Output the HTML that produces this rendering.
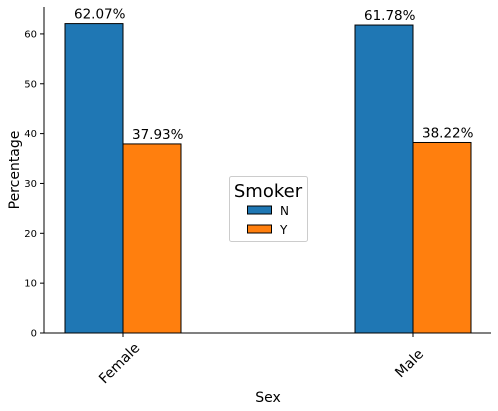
<!DOCTYPE html>
<html><head><meta charset="utf-8"><style>
body{margin:0;background:#fff;}
svg{font-family:"DejaVu Sans","Liberation Sans",sans-serif;display:block}
</style></head><body>
<svg id="chart" width="498" height="411" viewBox="0 0 498 411"></svg>
<script>
const categories = ["Female", "Male"];
const seriesNames = ["N", "Y"];
const seriesN = [62.07, 61.78];
const seriesY = [37.93, 38.22];
const yTicks = [0, 10, 20, 30, 40, 50, 60];
const colors = ["#1f77b4", "#ff7f0e"];

const svg = document.getElementById('chart');
const NS = 'http://www.w3.org/2000/svg';
const L = 44, R = 491, B = 333, T = 7;
const yMax = 65.4;
const y = v => B - v / yMax * (B - T);
const catX = i => 123 + i * 290;
const barW = 58;
function el(tag, attrs, txt) {
  const e = document.createElementNS(NS, tag);
  for (const k in attrs) e.setAttribute(k, attrs[k]);
  if (txt !== undefined) e.textContent = txt;
  svg.appendChild(e);
  return e;
}
const series = [seriesN, seriesY];
series.forEach((vals, s) => {
  vals.forEach((v, i) => {
    const x0 = catX(i) + (s === 0 ? -barW : 0);
    const r = el('rect', {x: x0, y: y(v), width: barW, height: B - y(v), fill: colors[s], stroke: '#000', 'stroke-width': 1});
    
    
    const t = el('text', {x: x0 + 9, y: y(v) - 5, 'font-size': 13.5, fill: '#000'}, v.toFixed(2) + '%');
    
    
  });
});
const ax = el('path', {d: `M${L} ${T}V${B}H${R}`, fill: 'none', stroke: '#000', 'stroke-width': 1});


yTicks.forEach(v => {
  const tk = el('line', {x1: L - 4, x2: L, y1: y(v), y2: y(v), stroke: '#000'});
  
  
  const t = el('text', {x: L - 7, y: y(v) + 3.5, 'text-anchor': 'end', 'font-size': 10}, String(v));
  
  
});
categories.forEach((c, i) => {
  const tk = el('line', {x1: catX(i), x2: catX(i), y1: B, y2: B + 4, stroke: '#000'});
  
  
  const cx = catX(i) - 4, cy = 368;
  const t = el('text', {x: cx, y: cy, 'text-anchor': 'middle', 'font-size': 14, transform: `rotate(-45 ${cx} ${cy - 5})`}, c);
  
  
});
const xt = el('text', {x: 268, y: 402, 'text-anchor': 'middle', 'font-size': 14}, 'Sex');


const yt = el('text', {x: 19, y: 170, 'text-anchor': 'middle', 'font-size': 14, transform: 'rotate(-90 19 170)'}, 'Percentage');


const lg = el('rect', {x: 229.5, y: 176.5, width: 78, height: 65, rx: 2, fill: '#fff', stroke: '#ccc'});


const lt = el('text', {x: 268, y: 197, 'text-anchor': 'middle', 'font-size': 18}, 'Smoker');


seriesNames.forEach((n, s) => {
  const py = 206 + s * 19;
  const p = el('rect', {x: 247.5, y: py, width: 24, height: 8, fill: colors[s], stroke: '#000'});
  
  
  const t = el('text', {x: 280, y: py + 9, 'font-size': 12}, n);
  
  
});
</script>
</body></html>
